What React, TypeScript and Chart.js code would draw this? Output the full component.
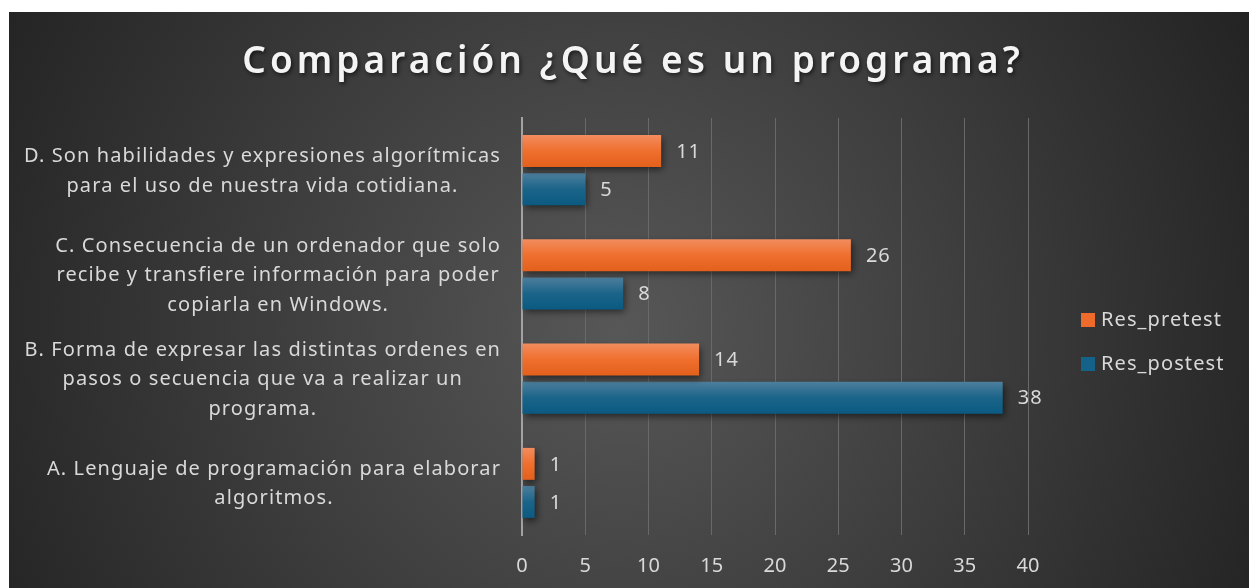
import React, { useEffect, useRef } from "react";
import { Chart, registerables } from "chart.js";

Chart.register(...registerables);

const chartTitle = "Comparación ¿Qué es un programa?";
const categories: string[][] = [
  ["D. Son habilidades y expresiones algorítmicas", "para el uso de nuestra vida cotidiana."],
  ["C. Consecuencia de un ordenador que solo", "recibe y transfiere información para poder", "copiarla en Windows."],
  ["B. Forma de expresar las distintas ordenes en", "pasos o secuencia que va a realizar un", "programa."],
  ["A. Lenguaje de programación para elaborar", "algoritmos."],
];
const seriesNames = ["Res_pretest", "Res_postest"];
const preValues = [11, 26, 14, 1];
const postValues = [5, 8, 38, 1];
const xMin = 0;
const xMax = 40;
const xStep = 5;

const FONT = "'Noto Sans', 'Open Sans', sans-serif";
const TEXT = "#d9d9d9";
const gradStops = [
  ["#f28c5e", "#ef6f2e", "#e3601c"],
  ["#4e7f9d", "#1b6489", "#0b5a82"],
];
const legendColors = ["#ee6b2b", "#14618a"];

const decorPlugin = {
  id: "decor",
  beforeDraw(chart: any) {
    const { ctx, width, height } = chart;
    ctx.save();
    const g = ctx.createRadialGradient(611, 318, 0, 611, 318, 720);
    g.addColorStop(0, "#575757");
    g.addColorStop(1, "#222222");
    ctx.fillStyle = g;
    ctx.fillRect(0, 0, width, height);

    // title
    ctx.font = `600 37px ${FONT}`;
    ctx.fillStyle = "#f4f4f4";
    (ctx as any).letterSpacing = "4.05px";
    ctx.textAlign = "center";
    ctx.textBaseline = "middle";
    ctx.shadowColor = "rgba(0,0,0,0.6)";
    ctx.shadowBlur = 4;
    ctx.shadowOffsetX = 1.5;
    ctx.shadowOffsetY = 2;
    ctx.fillText(chartTitle, 624, 50);
    ctx.restore();

    // category labels
    const ys = chart.scales.y;
    ctx.save();
    ctx.font = `20px ${FONT}`;
    (ctx as any).letterSpacing = "1.1px";
    ctx.fillStyle = TEXT;
    ctx.textAlign = "center";
    ctx.textBaseline = "middle";
    const lh = 29.5;
    categories.forEach((lines, i) => {
      const cy = ys.getPixelForValue(i);
      const w = Math.max(...lines.map((l) => ctx.measureText(l).width));
      const cx = 492 - w / 2;
      const y0 = cy + 1 - ((lines.length - 1) * lh) / 2;
      lines.forEach((l, j) => ctx.fillText(l, cx, y0 + j * lh));
    });

    // legend
    ctx.textAlign = "left";
    seriesNames.forEach((n, i) => {
      const y = 308 + i * 44;
      ctx.fillStyle = legendColors[i];
      ctx.fillRect(1072, y - 7, 14, 14);
      ctx.fillStyle = TEXT;
      ctx.fillText(n, 1092, y);
    });
    ctx.restore();
  },
  beforeDatasetsDraw(chart: any) {
    const { ctx } = chart;
    chart.data.datasets.forEach((ds: any, di: number) => {
      const meta = chart.getDatasetMeta(di);
      meta.data.forEach((el: any) => {
        const top = el.y - el.height / 2;
        const bot = el.y + el.height / 2;
        const g = ctx.createLinearGradient(0, top, 0, bot);
        g.addColorStop(0, gradStops[di][0]);
        g.addColorStop(0.5, gradStops[di][1]);
        g.addColorStop(1, gradStops[di][2]);
        el.options = Object.assign({}, el.options, { backgroundColor: g });
      });
    });
    ctx.save();
    ctx.shadowColor = "rgba(0,0,0,0.55)";
    ctx.shadowBlur = 7;
    ctx.shadowOffsetX = 2;
    ctx.shadowOffsetY = 3;
  },
  afterDatasetsDraw(chart: any) {
    const { ctx } = chart;
    ctx.restore();
    ctx.save();
    ctx.font = `20px ${FONT}`;
    (ctx as any).letterSpacing = "1px";
    ctx.fillStyle = TEXT;
    ctx.textAlign = "left";
    ctx.textBaseline = "middle";
    chart.data.datasets.forEach((ds: any, di: number) => {
      const meta = chart.getDatasetMeta(di);
      meta.data.forEach((el: any, i: number) => {
        ctx.fillText(String(ds.data[i]), el.x + 15, el.y + 1);
      });
    });
    ctx.restore();
  },
};

export default function App() {
  const ref = useRef<HTMLCanvasElement | null>(null);
  useEffect(() => {
    if (!ref.current) return;
    const chart = new Chart(ref.current, {
      type: "bar",
      data: {
        labels: categories,
        datasets: [
          { label: seriesNames[0], data: preValues, backgroundColor: legendColors[0], barPercentage: 0.84, categoryPercentage: 0.73 },
          { label: seriesNames[1], data: postValues, backgroundColor: legendColors[1], barPercentage: 0.84, categoryPercentage: 0.73 },
        ],
      },
      options: {
        indexAxis: "y",
        animation: false,
        responsive: true,
        maintainAspectRatio: false,
        layout: { padding: { left: 513, right: 221, top: 106, bottom: 0 } },
        plugins: { legend: { display: false }, title: { display: false }, tooltip: { enabled: false } },
        scales: {
          x: {
            min: xMin,
            max: xMax,
            afterFit: (s: any) => { s.height = 53; },
            ticks: { stepSize: xStep, color: TEXT, font: { family: FONT, size: 20 }, padding: 19 },
            grid: { color: "#696969", lineWidth: 1, drawTicks: false },
            border: { display: false },
          },
          y: {
            z: 1,
            afterFit: (s: any) => { s.width = 0; },
            ticks: { display: false },
            grid: { display: false },
            border: { display: true, color: "#a3a3a3", width: 2 },
          },
        },
      },
      plugins: [decorPlugin],
    } as any);
    return () => chart.destroy();
  }, []);
  return (
    <div style={{ position: "absolute", left: 9, top: 12, width: 1240, height: 576 }}>
      <canvas ref={ref} />
    </div>
  );
}
